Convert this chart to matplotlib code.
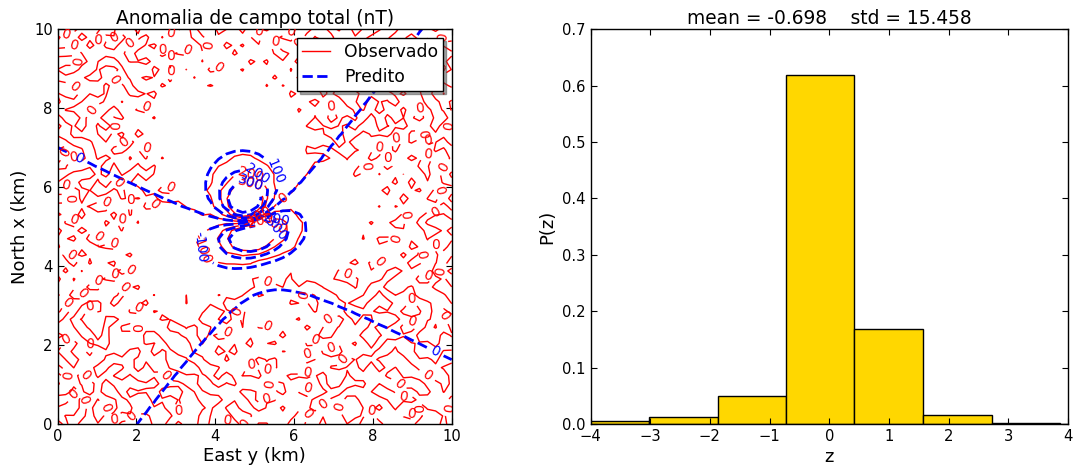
import numpy as np
import matplotlib.pyplot as plt

plt.rcParams.update({
    'font.size': 12,
    'xtick.labelsize': 10.6,
    'ytick.labelsize': 10.6,
    'axes.labelsize': 13,
    'axes.titlesize': 13.4,
    'legend.fontsize': 12.4,
    'xtick.direction': 'in',
    'ytick.direction': 'in',
    'xtick.top': True,
    'ytick.right': True,
    'xtick.major.size': 4,
    'ytick.major.size': 4,
    'axes.linewidth': 1.0,
    'legend.fancybox': False,
    'legend.framealpha': 1.0,
    'legend.edgecolor': 'k',
})

# survey grid (km)
shape = (50, 50)
area = [0, 10, 0, 10]
# geomagnetic field / magnetization direction (degrees)
inc, dec = -27., -13.
# true sphere (synthetic data) and the estimated one (predicted data)
src_x, src_y = 5.05, 4.9
true_depth, true_amplitude = 0.75, 344.
est_depth, est_amplitude = 0.9, 464.

levels = [-3000, -2000, -1000, -300, -200, -100, 0, 100, 200, 300, 1000, 2000, 3000]

# contamination added to the synthetic data, one digit (0-9) per grid node
noise_digits = [
    "7391440265 8831927705 4162933881 0562774903 1856624170",
    "2558093714 6620398814 5720399566 1384770251 9984361052",
    "4107385296 0043718852 9316604728 5517930046 2839915764",
    "9826150473 3175946620 0848153397 6620481185 7403268891",
    "1364729908 5592017436 7781246509 3095217764 0156732948",
    "6045918321 2408763195 1429875034 8871650329 4962107735",
    "3719062584 9967104352 6053318942 2140983576 8315594026",
    "8250377149 1732586901 3896041257 7758324619 0647821359",
    "0583216976 4421975038 8265703184 9036571422 5798043611",
    "5932804417 7084632569 0417596823 3492018657 1260379844",
    "2681579030 3658201947 5734082169 6218745390 9031456287",
    "7406938152 0893147625 2198367405 4750296813 3865920174",
    "1158427369 6320985714 9682510437 8063149572 7492083516",
    "9375016842 2547630198 4051928763 1984307265 0218765439",
    "4829365107 8176042359 7340615928 5627891034 6583049172",
    "0614782935 5902318476 1867243590 2309564781 4179286305",
    "6297104583 3481769520 8523901674 7146830259 2956731048",
    "3542891076 9035274168 0674158329 4895012637 8304612795",
    "8063257941 1728436905 3915780246 0531679824 5741098362",
    "2716043598 6350918274 5208347169 9273485106 1685420937",
    "5390726814 0874152693 2461093758 3610257948 7032964581",
    "1847530269 4619287305 7195628430 8054913672 3528170496",
    "7025168943 2093576418 9347105682 1782649305 6410853729",
    "4571982306 7365041829 0852734916 6428107593 9873526104",
    "9138405672 3751869024 6580219347 2916740385 0256138947",
    "0682317594 8127430956 3029865714 5384021769 4697285013",
    "6419053827 5246718390 8716432095 7035896412 1328047659",
    "3254679108 0981325647 4193578260 9608251374 8075613492",
    "8907142365 6439857102 1645093827 4172639580 2539406718",
    "2136598470 1862043597 7320186549 0849175236 6914570823",
    "5783260914 9574618230 3058742196 6295308417 0481925367",
    "1469837052 4035971682 9864205731 3517842960 7256318094",
    "7520419386 2718360459 5401697328 8730164592 3942076158",
    "0847152693 6290485713 2175830964 1469527038 5613849207",
    "4395078216 3146729508 6839412075 9021386745 8370152649",
    "9612384750 7859013624 0527364819 5386907124 1094637582",
    "3076941528 0463582197 4918253706 2754019836 6821790435",
    "6250837194 5397146082 8643901527 7103645298 4568203917",
    "1783560429 9618273054 3290687145 4827153609 0735482691",
    "8431296075 2075839416 7356014928 0649278351 9217063845",
    "2964015837 6842751903 1089427563 8315690472 5490318726",
    "5107463982 1309624857 6742158390 3972504186 7836249150",
    "0358792641 7581436920 2467390815 6540831927 1072958436",
    "7695208314 4236079185 9513826074 2184695703 3659014287",
    "4016837529 8914352760 0831574692 7493026158 6248731905",
    "9872540163 3068197425 5278041936 0627318594 2915467038",
    "1234986750 6750421839 3615987204 5860742391 8047695213",
    "6549173082 0427685913 8042635197 1398560724 4763102859",
    "3781625409 5193748026 4796318520 9041287563 0386275941",
    "8027451396 2946035178 1370942685 4712639058 5129846370",
]
noise_scale = 3.0

# normalized residuals histogram
bin_edges = [-4.17, -3.02, -1.87, -0.72, 0.42, 1.57, 2.72, 3.86, 5.01]
bin_heights = [0.0047, 0.0118, 0.049, 0.619, 0.1685, 0.0154, 0.0018, 0.0008]
res_mean, res_std = -0.698, 15.458

xs = np.linspace(area[0], area[1], shape[0])
ys = np.linspace(area[2], area[3], shape[1])
X, Y = np.meshgrid(xs, ys, indexing='ij')


def dipole_tf(depth, amp):
    # total field anomaly of a sphere magnetized along the main field
    dx, dy, dz = X - src_x, Y - src_y, -depth
    I, D = np.radians(inc), np.radians(dec)
    tx, ty, tz = np.cos(I)*np.cos(D), np.cos(I)*np.sin(D), np.sin(I)
    r2 = dx**2 + dy**2 + dz**2
    tr = tx*dx + ty*dy + tz*dz
    return amp*(3*tr**2 - r2)/r2**2.5


digits = np.array([[int(c) for c in row.replace(' ', '')] for row in noise_digits])
observed = dipole_tf(true_depth, true_amplitude) + (digits - 4.5)*noise_scale
predicted = dipole_tf(est_depth, est_amplitude)

fig = plt.figure(figsize=(10.76, 4.7), dpi=100)

ax1 = fig.add_axes([0.0536, 0.0979, 0.3662, 0.8398])
ax1.set_title('Anomalia de campo total (nT)', pad=4)
cs = ax1.contour(Y, X, observed, levels, colors='r', linestyles='solid', linewidths=1)
ax1.clabel(cs, fmt='%d', fontsize=10)
cs = ax1.contour(Y, X, predicted, levels, colors='b', linestyles='dashed', linewidths=2)
ax1.clabel(cs, fmt='%d', fontsize=10)
ax1.plot([], [], '-r', lw=1, label='Observado')
ax1.plot([], [], '--b', lw=2, label='Predito')
ax1.legend(loc='upper right', shadow=True, handlelength=1.6, borderaxespad=0.5,
           borderpad=0.3, labelspacing=0.4)
ax1.set_xlim(area[2], area[3])
ax1.set_ylim(area[0], area[1])
ax1.set_xlabel('East y (km)', labelpad=2)
ax1.set_ylabel('North x (km)')

ax2 = fig.add_axes([0.5488, 0.0979, 0.4437, 0.8398])
ax2.set_title('mean = %.3f    std = %.3f' % (res_mean, res_std), pad=4)
ax2.bar(bin_edges[:-1], bin_heights, width=np.diff(bin_edges), align='edge',
        color='gold', edgecolor='k', linewidth=1)
ax2.set_xlim(-4, 4)
ax2.set_ylim(0, 0.7)
ax2.set_xlabel('z', labelpad=3)
ax2.set_ylabel('P(z)')

fig.savefig('out.png', dpi=100)
